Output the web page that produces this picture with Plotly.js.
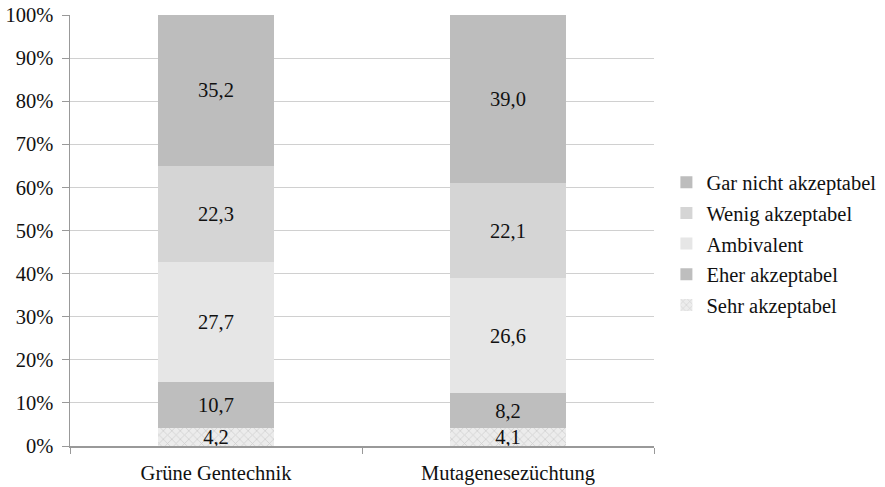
<!DOCTYPE html>
<html><head><meta charset="utf-8">
<script src="https://cdn.plot.ly/plotly-3.0.1.min.js"></script>
<style>html,body{margin:0;padding:0;background:#fff}#chart{width:885px;height:487px}</style>
</head><body><div id="chart"></div>
<script>
const categories = ["Grüne Gentechnik", "Mutagenesezüchtung"];
const seriesNames = ["Sehr akzeptabel", "Eher akzeptabel", "Ambivalent", "Wenig akzeptabel", "Gar nicht akzeptabel"];
const sehr = [4.2, 4.1];
const eher = [10.7, 8.2];
const ambivalent = [27.7, 26.6];
const wenig = [22.3, 22.1];
const garNicht = [35.2, 39.0];
const yTicks = [0, 10, 20, 30, 40, 50, 60, 70, 80, 90, 100];
const yTickLabels = ["0%", "10%", "20%", "30%", "40%", "50%", "60%", "70%", "80%", "90%", "100%"];

const seriesValues = [sehr, eher, ambivalent, wenig, garNicht];
const colors = ["#e4e4e4", "#bebebe", "#e6e6e6", "#d5d5d5", "#bdbdbd"];
const font = {family: "Liberation Serif", size: 20.5, color: "#111"};

const traces = seriesValues.map((vals, i) => {
  const t = {
    type: "bar", name: seriesNames[i], x: categories, y: vals,
    legendgroup: "g" + i, legendrank: 10 - i,
    marker: {color: colors[i], line: {width: 0}},
    texttemplate: "%{y:.1f}", textposition: "inside", insidetextanchor: "middle",
    constraintext: "none", textfont: font, hoverinfo: "none"
  };
  if (i === 0) {
    t.marker.pattern = {shape: "x", fgcolor: "#d0d0d0", bgcolor: "#ececec", size: 6, solidity: 0.25};
  }
  return t;
});

const layout = {
  width: 885, height: 487,
  margin: {l: 70, r: 231, t: 15, b: 41},
  barmode: "stack", bargap: 0.6,
  separators: ",.",
  font: font,
  paper_bgcolor: "#fff", plot_bgcolor: "#fff",
  showlegend: true,
  legend: {xref: "container", yref: "container", x: 0.753, y: 0.499, xanchor: "left", yanchor: "middle",
           traceorder: "grouped", tracegroupgap: 1, font: font, itemwidth: 30, borderwidth: 0},
  xaxis: {type: "category", showline: true, linecolor: "#999", linewidth: 1.5,
          ticks: "outside", tickson: "boundaries", ticklen: 6, tickcolor: "#999",
          tickfont: font, showgrid: false, ticklabelstandoff: 8},
  yaxis: {range: [0, 100], tickmode: "array", tickvals: yTicks, ticktext: yTickLabels,
          showline: true, linecolor: "#999", linewidth: 1.5,
          ticks: "outside", ticklen: 7, tickcolor: "#999", gridcolor: "#d0d0d0", gridwidth: 1,
          tickfont: font, zeroline: false, ticklabelstandoff: 4}
};

Plotly.newPlot("chart", traces, layout, {staticPlot: true, displayModeBar: false});
</script>
</body></html>
